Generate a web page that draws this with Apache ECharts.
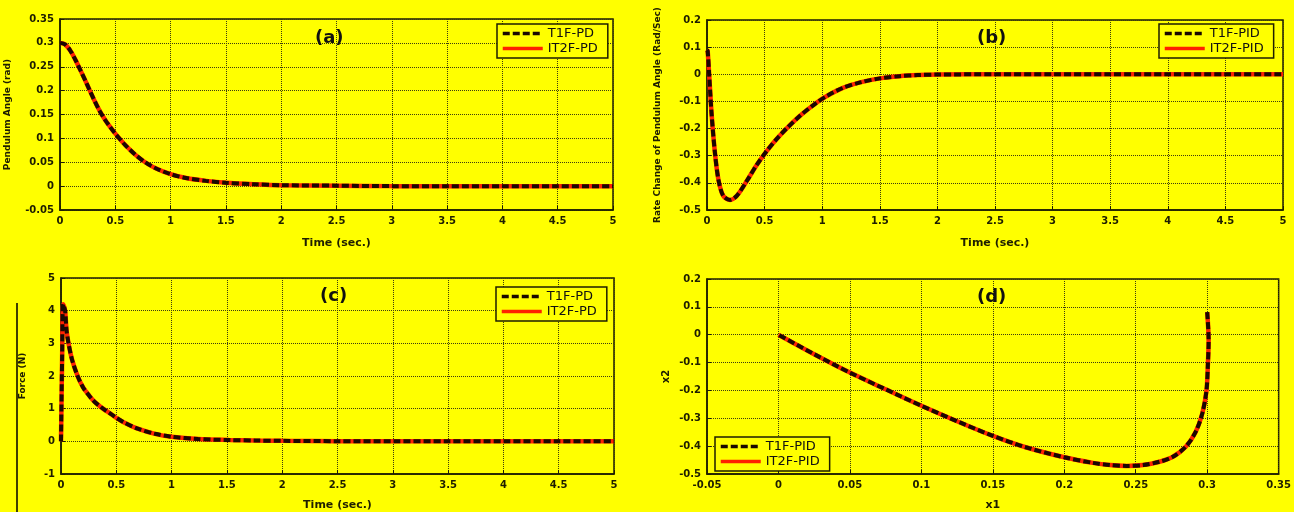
<!DOCTYPE html>
<html>
<head>
<meta charset="utf-8">
<title>Pendulum response</title>
<script src="https://cdn.jsdelivr.net/npm/echarts@6/dist/echarts.min.js"></script>
<style>
  html, body { margin: 0; padding: 0; background: #ffff00; }
  #chart { width: 1294px; height: 512px; }
</style>
</head>
<body>
<div id="chart"></div>
<script>
// (a) pendulum angle vs time
const timeA = [0, 0.045, 0.09, 0.136, 0.18, 0.227, 0.27, 0.318, 0.36, 0.41, 0.45, 0.5, 0.59, 0.68, 0.77, 0.86, 1.0, 1.14, 1.32, 1.5, 1.75, 2.0, 2.5, 3, 3.5, 4, 4.5, 5];
const angleA = [0.3, 0.297, 0.285, 0.266, 0.245, 0.222, 0.2, 0.176, 0.157, 0.138, 0.125, 0.11, 0.086, 0.066, 0.05, 0.038, 0.025, 0.017, 0.011, 0.007, 0.004, 0.002, 0.001, 0, 0, 0, 0, 0];

// (b) rate of change of pendulum angle vs time
const timeB = [0, 0.006, 0.02, 0.04, 0.07, 0.1, 0.14, 0.2, 0.26, 0.35, 0.43, 0.52, 0.61, 0.69, 0.81, 0.95, 1.04, 1.18, 1.33, 1.5, 1.67, 1.83, 2.0, 2.5, 3, 3.5, 4, 4.5, 5];
const rateB = [0.09, 0.085, -0.01, -0.147, -0.294, -0.39, -0.447, -0.463, -0.447, -0.39, -0.335, -0.282, -0.236, -0.2, -0.152, -0.105, -0.08, -0.05, -0.03, -0.015, -0.007, -0.003, -0.001, 0, 0, 0, 0, 0, 0];

// (c) force vs time
const timeC = [0, 0.01, 0.02, 0.037, 0.05, 0.068, 0.1, 0.15, 0.2, 0.25, 0.3, 0.38, 0.45, 0.5, 0.57, 0.7, 0.85, 1.0, 1.24, 1.52, 1.75, 2.0, 2.5, 3, 3.5, 4, 4.5, 5];
const forceC = [0, 2.5, 4.2, 4.0, 3.4, 3.0, 2.5, 2.0, 1.65, 1.42, 1.22, 1.0, 0.84, 0.72, 0.58, 0.38, 0.23, 0.14, 0.07, 0.04, 0.025, 0.015, 0.005, 0, 0, 0, 0, 0];

// (d) phase plane x1 vs x2
const phaseX1 = [0.3, 0.301, 0.3005, 0.2995, 0.2966, 0.292, 0.285, 0.276, 0.2666, 0.255, 0.2435, 0.232, 0.22, 0.2, 0.173, 0.15, 0.127, 0.1, 0.075, 0.05, 0.025, 0];
const phaseX2 = [0.081, -0.02, -0.104, -0.2, -0.282, -0.348, -0.402, -0.438, -0.456, -0.468, -0.471, -0.468, -0.46, -0.44, -0.404, -0.363, -0.315, -0.255, -0.196, -0.136, -0.07, 0];

const legendPD = ["T1F-PD", "IT2F-PD"];
const legendPID = ["T1F-PID", "IT2F-PID"];

const FONT = "DejaVu Sans";
const INK = "#1e1e00";
let myChart;

function pairs(xs, ys) {
  return xs.map((x, i) => [x, ys[i]]);
}

function axis(gridIndex, min, max, interval, name, nameGap, nameSize) {
  return {
    type: "value",
    gridIndex: gridIndex,
    min: min,
    max: max,
    interval: interval,
    name: name,
    nameLocation: "middle",
    nameGap: nameGap,
    nameTextStyle: { fontFamily: FONT, fontSize: nameSize, fontWeight: "bold", color: INK },
    axisLine: { show: true, onZero: false, lineStyle: { color: INK, width: 1.5 } },
    axisTick: { show: true, inside: true, length: 4, lineStyle: { color: INK } },
    axisLabel: { fontFamily: FONT, fontSize: 10, fontWeight: "bold", color: INK, margin: 6 },
    splitLine: { show: true, lineStyle: { color: "#3c3c10", type: "dotted", width: 1 } },
  };
}

function pairSeries(names, gridIndex, data) {
  // red solid underneath, black dashed on top
  return [
    {
      name: names[1], type: "line", xAxisIndex: gridIndex, yAxisIndex: gridIndex,
      data: data, showSymbol: false, symbol: "none", smooth: 0.3,
      itemStyle: { color: "#ff2200" },
      lineStyle: { color: "#ff2200", width: 4.5 },
    },
    {
      name: names[0], type: "line", xAxisIndex: gridIndex, yAxisIndex: gridIndex,
      data: data, showSymbol: false, symbol: "none", smooth: 0.3,
      itemStyle: { color: "#1a0800" },
      lineStyle: { color: "#1a0800", width: 4, type: [7, 3] },
    },
  ];
}

function legendBox(names, left, top) {
  return {
    data: names,
    orient: "vertical",
    left: left,
    top: top,
    itemWidth: 40,
    itemHeight: 12,
    itemGap: 2,
    padding: [3, 10, 3, 4],
    borderColor: INK,
    borderWidth: 1.5,
    backgroundColor: "#ffff00",
    itemStyle: { opacity: 0 },
    lineStyle: { width: 3.5 },
    textStyle: { fontFamily: FONT, fontSize: 13, color: "#111" },
  };
}

function panelTitle(text, left, top) {
  return {
    text: text, left: left, top: top, padding: 0,
    textStyle: { fontFamily: FONT, fontSize: 18, fontWeight: "bold", color: "#111" },
  };
}

function chartsOptions() {
  const gridStyle = { show: true, backgroundColor: "#ffff00", borderColor: INK, borderWidth: 1.5 };
  return {
    backgroundColor: "#ffff00",
    animation: false,
    title: [
      panelTitle("(a)", 315, 29),
      panelTitle("(b)", 977, 29),
      panelTitle("(c)", 320, 287),
      panelTitle("(d)", 977, 288),
    ],
    legend: [
      legendBox(legendPD, 497, 24),
      legendBox(legendPID, 1159, 24),
      legendBox(legendPD, 496, 287),
      legendBox(legendPID, 715, 437),
    ],
    grid: [
      Object.assign({ left: 60, top: 19, width: 553, height: 191 }, gridStyle),
      Object.assign({ left: 707, top: 20, width: 576, height: 190 }, gridStyle),
      Object.assign({ left: 61, top: 278, width: 553, height: 198 }, gridStyle),
      Object.assign({ left: 707, top: 279, width: 575, height: 196 }, gridStyle),
    ],
    xAxis: [
      axis(0, 0, 5, 0.5, "Time (sec.)", 28, 11),
      axis(1, 0, 5, 0.5, "Time (sec.)", 28, 11),
      axis(2, 0, 5, 0.5, "Time (sec.)", 26, 11),
      axis(3, -0.05, 0.35, 0.05, "x1", 26, 11),
    ],
    yAxis: [
      axis(0, -0.05, 0.35, 0.05, "Pendulum Angle (rad)", 48, 9),
      axis(1, -0.5, 0.2, 0.1, "Rate Change of Pendulum Angle (Rad/Sec)", 45, 9),
      axis(2, -1, 5, 1, "Force (N)", 34, 9),
      axis(3, -0.5, 0.2, 0.1, "x2", 36, 10),
    ],
    series: [].concat(
      pairSeries(legendPD, 0, pairs(timeA, angleA)),
      pairSeries(legendPID, 1, pairs(timeB, rateB)),
      pairSeries(legendPD, 2, pairs(timeC, forceC)),
      pairSeries(legendPID, 3, pairs(phaseX1, phaseX2))
    ),
    graphic: [
      { type: "line", shape: { x1: 17, y1: 303, x2: 17, y2: 512 }, style: { stroke: "#000", lineWidth: 1.5 } },
    ],
  };
}

myChart = echarts.init(document.getElementById("chart"), null, { renderer: "canvas" });
myChart.setOption(chartsOptions());
</script>
</body>
</html>
